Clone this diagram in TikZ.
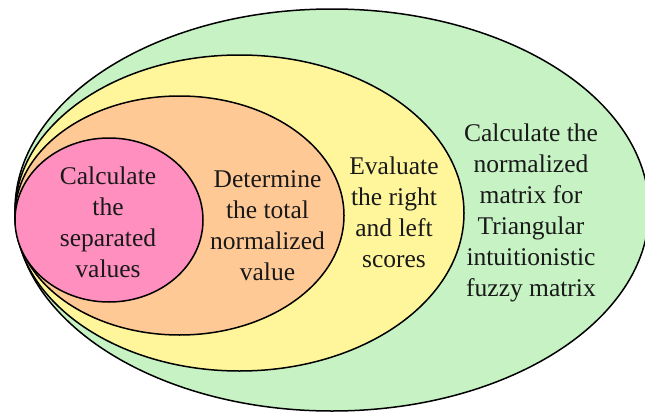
\documentclass[tikz,border=0pt]{standalone}
\usepackage{fontspec}
\setmainfont{Liberation Serif}
\usetikzlibrary{shapes.geometric}
\definecolor{cgreen}{RGB}{198,242,196}
\definecolor{cyellow}{RGB}{255,246,156}
\definecolor{corange}{RGB}{255,201,150}
\definecolor{cpink}{RGB}{255,143,190}
\definecolor{ctext}{RGB}{25,25,25}
\tikzset{
  ring/.style={ellipse, draw=black, line width=1.5pt, inner sep=0pt, outer sep=0pt},
  txtstyle/.style={align=center, text=ctext, font=\rmfamily\fontsize{25.5}{31}\selectfont, inner sep=0pt}
}
\begin{document}
\begin{tikzpicture}[x=1pt,y=-1pt]
\useasboundingbox (0,0) rectangle (645,415);
\fill[white] (0,0) rectangle (645,415);
\node[ring, fill=cgreen, minimum width=634pt, minimum height=402pt] (green) at (332,210) {};
\node[ring, fill=cyellow, minimum width=449pt, minimum height=316pt] (yellow) at (239.5,213) {};
\node[ring, fill=corange, minimum width=329pt, minimum height=239pt] (orange) at (179.5,215.5) {};
\node[ring, fill=cpink, minimum width=188pt, minimum height=164pt] (pink) at (109,220) {};
\node[txtstyle] (tpink) at (108,222) {Calculate\\the\\separated\\values};
\node[txtstyle] (torange) at (267.5,226) {Determine\\the total\\normalized\\value};
\node[txtstyle] (tyellow) at (394,212) {Evaluate\\the right\\and left\\scores};
\node[txtstyle] (tgreen) at (531,213) {Calculate the\\normalized\\matrix for\\Triangular\\intuitionistic\\fuzzy matrix};
\end{tikzpicture}
\end{document}
